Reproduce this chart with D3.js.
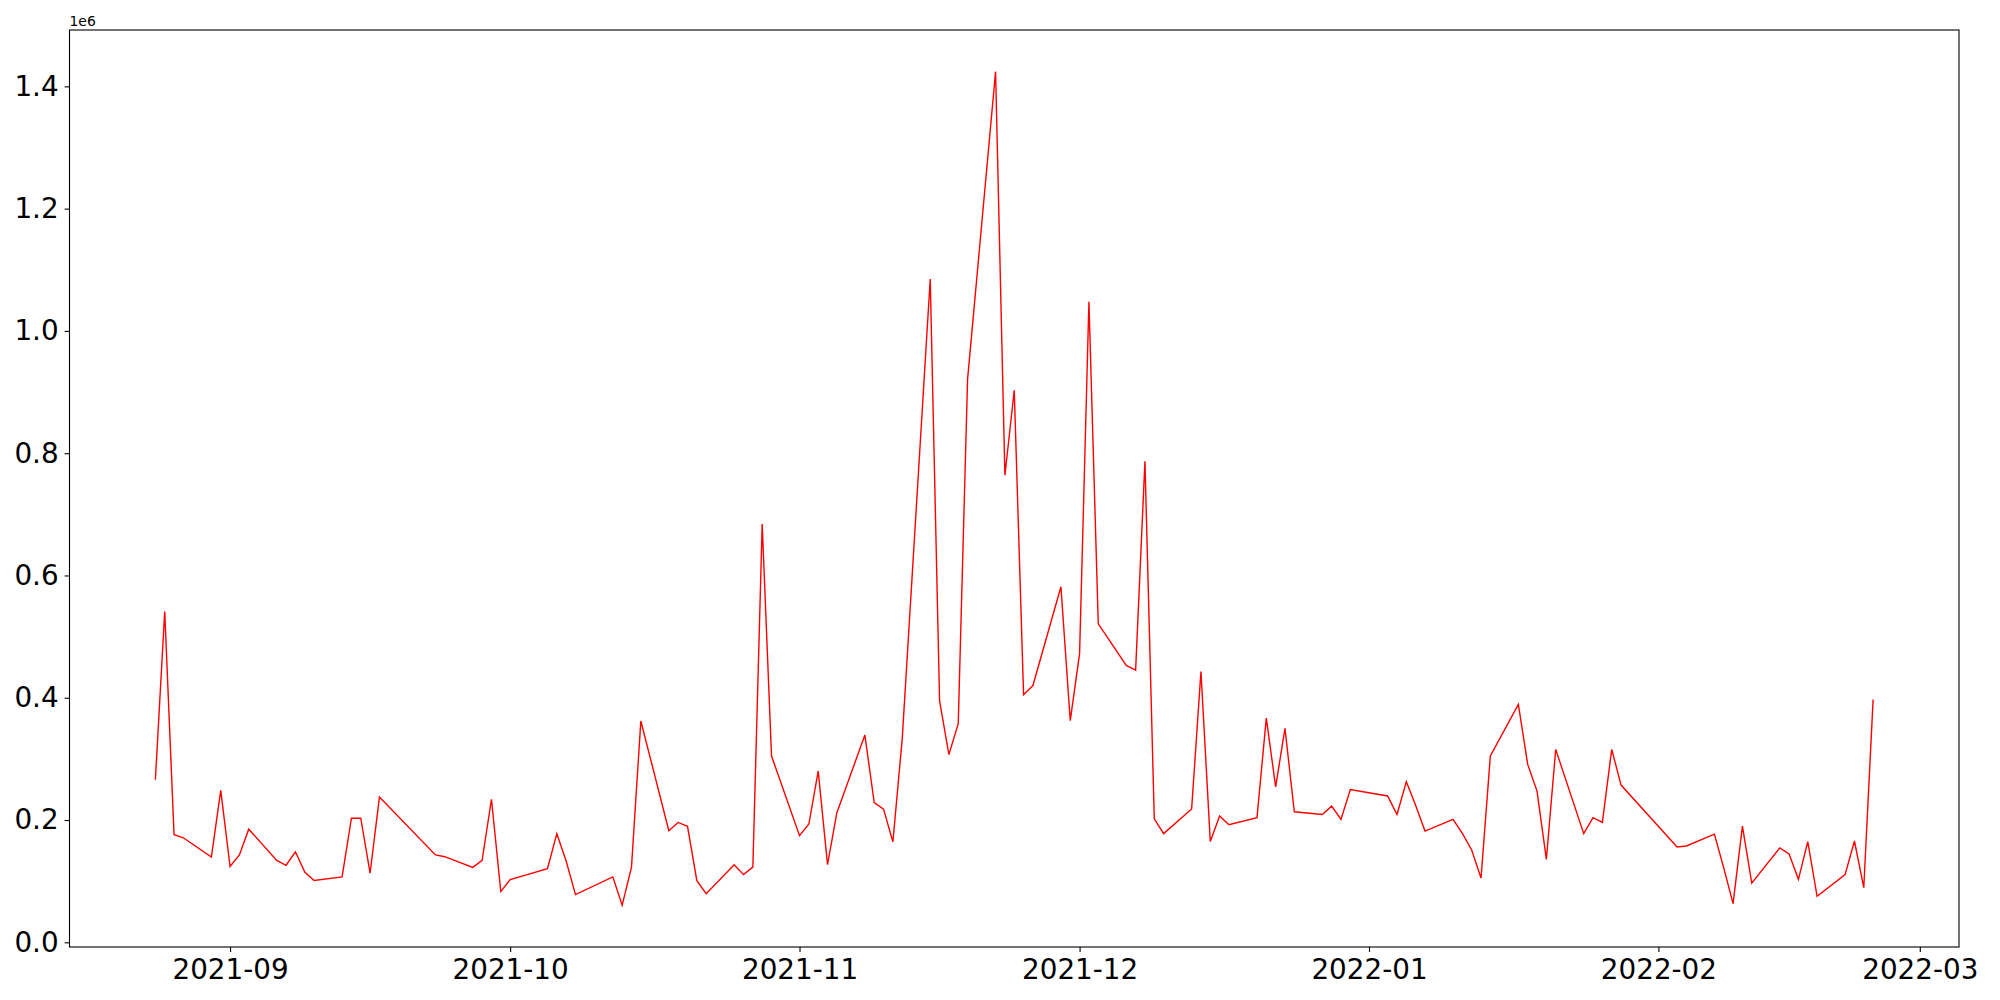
<!DOCTYPE html>
<html>
<head>
<meta charset="utf-8">
<script src="https://cdn.jsdelivr.net/npm/d3@7"></script>
<style>
body { margin: 0; background: #fff; }
svg text { font-family: "DejaVu Sans", sans-serif; fill: #000; }
</style>
</head>
<body>
<div class="viz"></div>
<script>
var width = 2000, height = 1000
var margin = {top: 30, right: 41, bottom: 53, left: 69.5}

var dates = ["2021-08-24","2021-08-25","2021-08-26","2021-08-27","2021-08-30","2021-08-31",
    "2021-09-01","2021-09-02","2021-09-03","2021-09-06","2021-09-07","2021-09-08","2021-09-09","2021-09-10",
    "2021-09-13","2021-09-14","2021-09-15","2021-09-16","2021-09-17","2021-09-23","2021-09-24",
    "2021-09-27","2021-09-28","2021-09-29","2021-09-30","2021-10-01","2021-10-05","2021-10-06","2021-10-07","2021-10-08",
    "2021-10-12","2021-10-13","2021-10-14","2021-10-15","2021-10-18","2021-10-19","2021-10-20","2021-10-21","2021-10-22",
    "2021-10-25","2021-10-26","2021-10-27","2021-10-28","2021-10-29","2021-11-01","2021-11-02","2021-11-03","2021-11-04","2021-11-05",
    "2021-11-08","2021-11-09","2021-11-10","2021-11-11","2021-11-12","2021-11-15","2021-11-16","2021-11-17","2021-11-18","2021-11-19",
    "2021-11-22","2021-11-23","2021-11-24","2021-11-25","2021-11-26","2021-11-29","2021-11-30","2021-12-01","2021-12-02","2021-12-03",
    "2021-12-06","2021-12-07","2021-12-08","2021-12-09","2021-12-10","2021-12-13","2021-12-14","2021-12-15","2021-12-16","2021-12-17",
    "2021-12-20","2021-12-21","2021-12-22","2021-12-23","2021-12-24","2021-12-27","2021-12-28","2021-12-29","2021-12-30",
    "2022-01-03","2022-01-04","2022-01-05","2022-01-06","2022-01-07","2022-01-10","2022-01-11","2022-01-12","2022-01-13","2022-01-14",
    "2022-01-17","2022-01-18","2022-01-19","2022-01-20","2022-01-21","2022-01-24","2022-01-25","2022-01-26","2022-01-27","2022-01-28",
    "2022-02-03","2022-02-04","2022-02-07","2022-02-08","2022-02-09","2022-02-10","2022-02-11",
    "2022-02-14","2022-02-15","2022-02-16","2022-02-17","2022-02-18","2022-02-21","2022-02-22","2022-02-23","2022-02-24"]

var volumes = [266000,541000,176000,171000,139500,248500,
    124000,143000,185000,134000,126000,148000,115000,101000,
    107000,203000,203000,113000,237600,143000,140000,
    122600,134000,234000,83000,102500,120500,177700,133000,78000,
    107000,60500,123000,362000,182600,196000,189700,100900,79600,
    127000,110700,123000,684000,304700,174400,193500,280000,127000,212000,
    339000,228700,217800,164300,332800,1085000,395000,307000,357600,920700,
    1424000,764000,902900,405000,420000,581600,362500,472600,1047600,521000,
    452800,445000,786800,202000,177800,218000,443000,164800,206700,192300,
    203700,366600,254300,350000,213500,209000,222700,201000,249700,
    239400,209000,262800,223800,182000,201000,178000,151000,105000,305000,
    389000,291000,247400,135700,315600,177700,203900,196200,315600,257200,
    155900,157500,177000,121500,63200,190000,96800,
    154500,144500,103000,164800,75200,110700,165700,89400,397000]

var xTicks = ["2021-09","2021-10","2021-11","2021-12","2022-01","2022-02","2022-03"]
var yTicks = [0, 200000, 400000, 600000, 800000, 1000000, 1200000, 1400000]

var parseDay = d3.timeParse("%Y-%m-%d"),
    parseMonth = d3.timeParse("%Y-%m")

var data = dates.map((d, i) => { return {date: parseDay(d), value: volumes[i]} })

var w = width - margin.left - margin.right,
    h = height - margin.top - margin.bottom

var svg = d3.select(".viz").append("svg")
    .attr("width", width)
    .attr("height", height)

var g = svg.append("g")
    .attr("transform", "translate(" + margin.left + "," + margin.top + ")")

// matplotlib style 5% padding on both axes
var xExt = d3.extent(data, d => d.date),
    xPad = (xExt[1] - xExt[0]) * 0.05
var x = d3.scaleTime()
    .domain([new Date(+xExt[0] - xPad), new Date(+xExt[1] + xPad)])
    .range([0, w])

var yExt = d3.extent(data, d => d.value),
    yPad = (yExt[1] - yExt[0]) * 0.05
var y = d3.scaleLinear()
    .domain([yExt[0] - yPad, yExt[1] + yPad])
    .range([h, 0])

var line = d3.line()
    .x(d => x(d.date))
    .y(d => y(d.value))

g.append("path")
    .datum(data)
    .attr("fill", "none")
    .attr("stroke", "#ff0000")
    .attr("stroke-width", 1.4)
    .attr("stroke-linejoin", "miter")
    .attr("d", line)

var xAxis = g.append("g")
    .attr("transform", "translate(0," + h + ")")
    .call(d3.axisBottom(x)
        .tickValues(xTicks.map(parseMonth))
        .tickFormat(d3.timeFormat("%Y-%m"))
        .tickSize(4.9)
        .tickPadding(7.4))

var yAxis = g.append("g")
    .call(d3.axisLeft(y)
        .tickValues(yTicks)
        .tickFormat(d => (d / 1e6).toFixed(1))
        .tickSize(4.9)
        .tickPadding(6))

g.selectAll(".domain").remove()
g.selectAll(".tick line").attr("stroke", "#000").attr("stroke-width", 1.1)
g.selectAll(".tick text")
    .style("font-size", "27.8px")
    .style("font-family", "DejaVu Sans")
    .attr("fill", "#000")

// frame
g.append("rect")
    .attr("width", w)
    .attr("height", h)
    .attr("fill", "none")
    .attr("stroke", "#000")
    .attr("stroke-width", 1.1)

// offset text
g.append("text")
    .attr("x", 0)
    .attr("y", -4)
    .style("font-size", "13.9px")
    .text("1e6")
</script>
</body>
</html>
